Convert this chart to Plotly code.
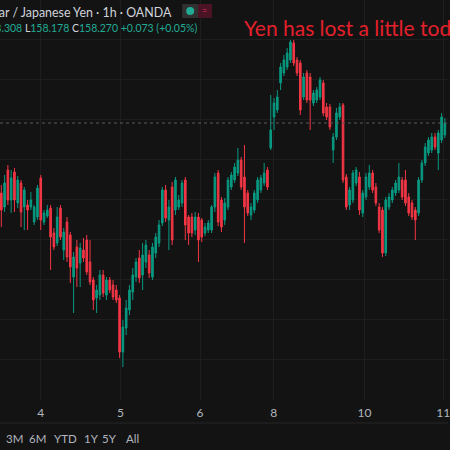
import plotly.graph_objects as go

# USD/JPY 1h candles (left to right)
opens = [157.920, 157.850, 158.035, 157.885, 158.025, 157.870, 157.970, 157.850, 157.860, 157.850,
         157.775, 157.800, 157.995, 157.775, 157.805, 157.845, 157.720, 157.670, 157.845, 157.635,
         157.775, 157.710, 157.500, 157.650, 157.570, 157.635, 157.685, 157.575, 157.485, 157.395,
         157.410, 157.510, 157.410, 157.485, 157.460, 157.435, 157.395, 157.125, 157.245, 157.335,
         157.425, 157.500, 157.595, 157.510, 157.575, 157.610, 157.500, 157.620, 157.670, 157.770,
         157.935, 157.785, 157.950, 157.835, 157.850, 157.870, 157.985, 157.800, 157.800, 157.735,
         157.800, 157.785, 157.720, 157.735, 157.735, 157.850, 158.020, 157.885, 157.785, 157.850,
         157.950, 157.985, 158.020, 158.085, 158.000, 157.920, 157.810, 157.835, 157.885, 157.935,
         157.970, 158.035, 158.145, 158.300, 158.335, 158.470, 158.520, 158.550, 158.585, 158.670,
         158.585, 158.570, 158.400, 158.520, 158.500, 158.370, 158.385, 158.400, 158.470, 158.350,
         158.350, 158.135, 158.200, 158.300, 158.360, 158.000, 157.860, 157.885, 157.970, 158.000,
         157.820, 157.900, 157.950, 158.020, 157.950, 157.850, 157.835, 157.620, 157.850, 157.885,
         157.920, 157.935, 157.985, 157.985, 157.900, 157.870, 157.835, 157.820, 157.985, 158.070,
         158.120, 158.135, 158.200, 158.120, 158.185, 158.210]
highs = [157.960, 158.010, 158.060, 158.035, 158.045, 158.005, 157.985, 157.950, 157.885, 157.925,
         157.860, 157.960, 158.010, 157.835, 157.860, 157.860, 157.745, 157.850, 157.860, 157.745,
         157.800, 157.725, 157.625, 157.685, 157.670, 157.695, 157.710, 157.685, 157.500, 157.460,
         157.535, 157.535, 157.500, 157.500, 157.485, 157.460, 157.410, 157.285, 157.385, 157.460,
         157.545, 157.595, 157.635, 157.670, 157.685, 157.635, 157.670, 157.720, 157.785, 157.950,
         157.960, 157.885, 157.975, 158.000, 157.910, 157.985, 158.000, 157.810, 157.820, 157.825,
         157.820, 157.795, 157.770, 157.785, 157.860, 158.020, 158.035, 157.900, 157.895, 158.000,
         158.025, 158.070, 158.145, 158.100, 158.160, 157.935, 157.870, 157.935, 158.000, 158.010,
         158.070, 158.050, 158.410, 158.395, 158.435, 158.570, 158.610, 158.645, 158.685, 158.685,
         158.600, 158.585, 158.520, 158.535, 158.520, 158.435, 158.450, 158.500, 158.485, 158.370,
         158.365, 158.220, 158.345, 158.370, 158.370, 158.015, 157.950, 158.035, 158.050, 158.025,
         157.935, 158.020, 158.060, 158.035, 157.970, 157.870, 157.850, 157.900, 157.920, 157.950,
         157.985, 158.070, 158.000, 158.035, 157.920, 157.885, 157.850, 158.000, 158.085, 158.170,
         158.200, 158.220, 158.220, 158.235, 158.320, 158.295]
lows = [157.750, 157.825, 157.860, 157.820, 157.825, 157.845, 157.750, 157.735, 157.735, 157.835,
        157.760, 157.785, 157.735, 157.760, 157.795, 157.535, 157.635, 157.655, 157.685, 157.585,
        157.575, 157.470, 157.320, 157.450, 157.450, 157.575, 157.510, 157.460, 157.335, 157.320,
        157.385, 157.400, 157.385, 157.420, 157.385, 157.370, 157.095, 157.050, 157.210, 157.310,
        157.385, 157.475, 157.470, 157.435, 157.545, 157.495, 157.485, 157.595, 157.650, 157.755,
        157.775, 157.635, 157.660, 157.810, 157.835, 157.850, 157.685, 157.660, 157.700, 157.710,
        157.575, 157.675, 157.705, 157.720, 157.720, 157.825, 157.755, 157.725, 157.760, 157.835,
        157.935, 157.970, 158.005, 157.935, 157.670, 157.805, 157.785, 157.820, 157.870, 157.920,
        157.955, 157.935, 158.135, 158.235, 158.320, 158.435, 158.505, 158.535, 158.570, 158.555,
        158.505, 158.310, 158.385, 158.370, 158.235, 158.355, 158.370, 158.385, 158.305, 158.285,
        158.235, 158.070, 158.185, 158.285, 157.970, 157.835, 157.835, 157.870, 157.955, 157.810,
        157.800, 157.885, 157.935, 157.920, 157.855, 157.720, 157.600, 157.605, 157.835, 157.870,
        157.905, 157.920, 157.885, 157.855, 157.805, 157.785, 157.685, 157.805, 157.970, 158.055,
        158.105, 158.120, 158.135, 158.035, 158.170, 158.195]
closes = [157.835, 157.970, 157.885, 157.995, 157.885, 157.985, 157.825, 157.935, 157.835, 157.885,
          157.850, 157.945, 157.785, 157.820, 157.835, 157.700, 157.650, 157.800, 157.700, 157.725,
          157.600, 157.550, 157.600, 157.545, 157.645, 157.595, 157.525, 157.475, 157.385, 157.435,
          157.510, 157.420, 157.485, 157.435, 157.400, 157.385, 157.125, 157.250, 157.345, 157.435,
          157.510, 157.575, 157.495, 157.610, 157.660, 157.520, 157.650, 157.700, 157.760, 157.935,
          157.795, 157.850, 157.685, 157.985, 157.885, 157.970, 157.760, 157.720, 157.720, 157.800,
          157.685, 157.700, 157.750, 157.770, 157.850, 158.000, 157.775, 157.750, 157.870, 157.985,
          158.010, 158.050, 158.085, 157.950, 157.850, 157.820, 157.850, 157.920, 157.985, 157.995,
          158.020, 157.950, 158.235, 158.370, 158.400, 158.550, 158.585, 158.620, 158.675, 158.570,
          158.520, 158.335, 158.500, 158.385, 158.385, 158.420, 158.435, 158.485, 158.320, 158.300,
          158.250, 158.200, 158.320, 158.350, 157.985, 157.850, 157.935, 158.020, 158.035, 157.835,
          157.920, 158.000, 158.020, 157.935, 157.870, 157.735, 157.620, 157.885, 157.900, 157.935,
          157.970, 158.000, 157.900, 157.870, 157.820, 157.800, 157.785, 157.985, 158.070, 158.150,
          158.185, 158.200, 158.150, 158.220, 158.300, 158.270]

tick_pos = [12.0, 36.3, 60.5, 82.9, 110.5, 134.5]
tick_text = ["4", "5", "6", "8", "10", "11"]
range_buttons = ["3M", "6M", "YTD", "1Y", "5Y", "All"]
button_left = [4, 27, 52, 82, 100, 125]

UP = "#089981"
DOWN = "#f23645"
BG = "#131313"
GRID = "#1e1e1e"
TEXT = "#b2b5be"
W, PLOT_H = 450, 400


def px(x):
    return x / W


def py(y):
    return (PLOT_H - y) / PLOT_H


fig = go.Figure(
    go.Candlestick(
        x=list(range(len(closes))),
        open=opens, high=highs, low=lows, close=closes,
        increasing=dict(line=dict(color=UP, width=1), fillcolor=UP),
        decreasing=dict(line=dict(color=DOWN, width=1), fillcolor=DOWN),
        whiskerwidth=0,
        hoverinfo="skip",
    )
)

# last price line
fig.add_hline(y=closes[-1], line=dict(color="#5a5a5a", width=1, dash="dot"))

# separator above the range bar
fig.add_shape(type="line", xref="paper", yref="paper", x0=0, x1=1, y0=py(423), y1=py(423),
              line=dict(color="#262626", width=1))

# header: symbol + ohlc
fig.add_annotation(x=px(175), y=py(12), xref="paper", yref="paper", xanchor="right", yanchor="middle",
                   text="U.S. Dollar / Japanese Yen · 1h · OANDA", showarrow=False,
                   font=dict(family="Lato", size=12.4, color="#d1d4dc"))
fig.add_annotation(
    x=px(200), y=py(28), xref="paper", yref="paper", xanchor="right", yanchor="middle", showarrow=False,
    text=('<span style="color:#d1d4dc">O</span>158.197 <span style="color:#d1d4dc">H</span>158.308 '
          '<span style="color:#d1d4dc">L</span>158.178 <span style="color:#d1d4dc">C</span>158.270 '
          '+0.073 (+0.05%)'),
    font=dict(family="Lato", size=10.5, color="#22ab94"))

# status pill next to the symbol
fig.add_shape(type="rect", xref="paper", yref="paper", x0=px(183), x1=px(213), y0=py(18), y1=py(4),
              fillcolor="#303030", line_width=0)
fig.add_shape(type="rect", xref="paper", yref="paper", x0=px(199), x1=px(213), y0=py(18), y1=py(4),
              fillcolor="#4a1424", line_width=0)
fig.add_shape(type="circle", xref="paper", yref="paper", x0=px(187), x1=px(195), y0=py(15), y1=py(7),
              fillcolor="#22ab94", line_width=0)
fig.add_annotation(x=px(205), y=py(11), xref="paper", yref="paper", xanchor="center", yanchor="middle",
                   text="=", showarrow=False, font=dict(family="Lato", size=9, color="#d6336c"))

# red note
fig.add_annotation(x=px(243), y=py(28), xref="paper", yref="paper", xanchor="left", yanchor="middle",
                   text="Yen has lost a little today", showarrow=False,
                   font=dict(family="Lato", size=21, color="#e3202b"))

# range buttons
for label, left in zip(range_buttons, button_left):
    fig.add_annotation(x=px(left), y=py(439), xref="paper", yref="paper", xanchor="left", yanchor="middle",
                       text=label, showarrow=False, font=dict(family="Lato", size=11.5, color=TEXT))

fig.update_layout(
    width=W, height=450,
    margin=dict(l=0, r=0, t=0, b=450 - PLOT_H),
    paper_bgcolor=BG, plot_bgcolor=BG,
    showlegend=False,
    xaxis=dict(range=[-0.4, 135.95], rangeslider_visible=False, tickvals=tick_pos, ticktext=tick_text,
               showgrid=True, gridcolor=GRID, zeroline=False, showline=False, ticks="",
               ticklabelstandoff=4, ticklabeloverflow="allow",
               tickfont=dict(family="Lato", size=12, color=TEXT)),
    yaxis=dict(range=[156.885, 158.885], showticklabels=False, tick0=158.29, dtick=0.2,
               showgrid=True, gridcolor=GRID, zeroline=False, showline=False),
)

fig.write_html("out.html", config={"displayModeBar": False},
               post_script="document.body.style.margin='0';")
